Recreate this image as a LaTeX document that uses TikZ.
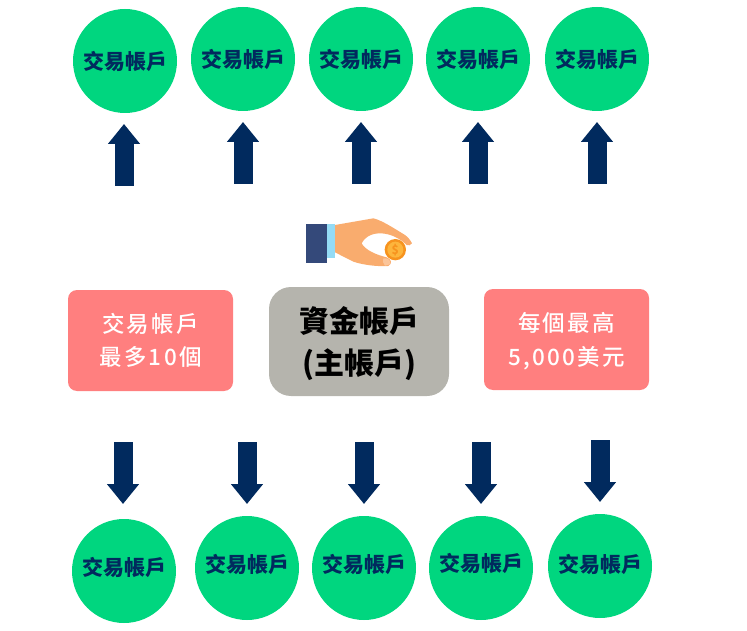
\documentclass[tikz,border=0pt]{standalone}
\usepackage{fontspec}
\setmainfont{Noto Sans CJK TC}
\newfontfamily\notefont{Noto Sans CJK TC Medium}
\usetikzlibrary{positioning,arrows.meta}
\definecolor{acctgreen}{HTML}{00D67F}
\definecolor{acctnavy}{HTML}{012A5E}
\definecolor{notepink}{HTML}{FF7F7F}
\definecolor{maingray}{HTML}{B5B4AD}
\definecolor{skin}{HTML}{F9AC6E}
\definecolor{cuff}{HTML}{94DBF5}
\definecolor{sleeve}{HTML}{34497A}
\definecolor{coinrim}{HTML}{F7931E}
\definecolor{coinface}{HTML}{FDB53C}
\tikzset{
    acct/.style={circle, fill=acctgreen, minimum size=104pt, inner sep=0pt, text=acctnavy,
        font=\fontsize{21}{24}\selectfont\bfseries},
    note/.style={rectangle, rounded corners=9pt, fill=notepink, minimum width=165pt, minimum height=101pt,
        inner sep=0pt, align=center, text=white,
        font=\notefont\fontsize{22.5}{33.5}\selectfont\addfontfeature{LetterSpace=10}},
    bigarrow/.style={acctnavy, line width=19pt, -{Triangle[width=31pt,length=20pt]}},
}
\begin{document}
\begin{tikzpicture}[x=1pt,y=-1pt]
    \useasboundingbox (0,0) rectangle (747,631);
    % upper row
    \foreach \i/\cx/\cy/\ax in {1/125/61/124, 2/243/59/243, 3/361/59/361, 4/478/59/478, 5/597/59/597}{
        \node[acct] (top\i) at (\cx,\cy) {交易帳戶};
        \coordinate (topbase\i) at (\ax,\cy+125);
        \coordinate (toptip\i) at (\ax,\cy+63);
        \draw[bigarrow] (topbase\i) -- (toptip\i);
    }
    % lower row
    \foreach \i/\cx/\cy/\ax/\by/\lift in {1/124/571/123/442/4, 2/247/568/247/442/4, 3/364/568/364/442/4, 4/481/568/481/442/5, 5/600/566/600/440/2}{
        \node[acct] (bot\i) at (\cx,\cy) {\raisebox{\lift pt}[\height][\depth]{交易帳戶}};
        \coordinate (botbase\i) at (\ax,\by);
        \coordinate (bottip\i) at (\ax,\by+62);
        \draw[bigarrow] (botbase\i) -- (bottip\i);
    }
    % middle boxes
    \node[rectangle, rounded corners=22pt, fill=maingray, minimum width=180pt, minimum height=109pt,
        inner sep=0pt, align=center, font=\fontsize{30}{42}\selectfont\bfseries] (main) at (359,341.5)
        {\raisebox{-2pt}[\height][\depth]{資金帳戶}\\\raisebox{-2pt}[\height][\depth]{(主帳戶)}};
    \node[note] (left) at (150.5,340.5) {交易帳戶\\最多10個};
    \node[note] (right) at (566.5,339.5) {\raisebox{-1.5pt}[\height][\depth]{每個最高}\\\raisebox{-1.5pt}[\height][\depth]{5,000美元}};
    % hand with coin
    \begin{scope}[shift={(290,205)},x=0.3333pt,y=-0.3333pt]
        \fill[skin] (135,60) -- (250,40) .. controls (275,45) and (320,75) .. (345,90)
            .. controls (355,97) and (362,107) .. (366,115) .. controls (362,122) and (355,122) .. (350,120)
            .. controls (330,100) and (300,85) .. (270,85) .. controls (240,85) and (222,100) .. (215,115)
            .. controls (225,135) and (260,150) .. (290,157) .. controls (305,163) and (308,175) .. (295,183)
            .. controls (260,185) and (220,180) .. (190,170) -- (135,142) -- cycle;
        \fill[skin!70!white] (280,160) .. controls (295,158) and (305,168) .. (300,178) -- (285,182) .. controls (278,175) and (278,168) .. (280,160) -- cycle;
        \fill[cuff] (112,57) rectangle (135,158);
        \fill[sleeve] (47,57) rectangle (112,175);
        \fill[coinrim] (316,134) circle (32);
        \fill[coinface] (316,134) circle (24);
        \node[text=coinrim, font=\fontsize{12}{12}\selectfont\bfseries, inner sep=0pt] (coin) at (316,134) {\$};
    \end{scope}
\end{tikzpicture}
\end{document}
